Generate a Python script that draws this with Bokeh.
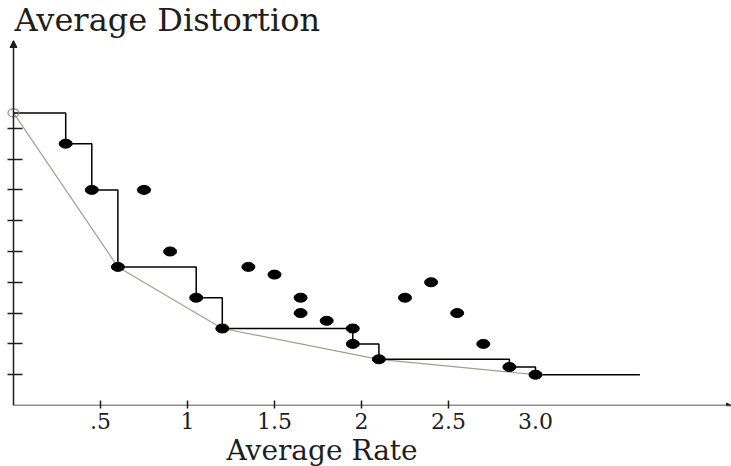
from bokeh.plotting import figure
from bokeh.models import Range1d, FixedTicker, Arrow, NormalHead, Title
from bokeh.embed import file_html
from bokeh.resources import INLINE

# ---- data (rate in bits, distortion in tick units) ----
origin_rate = [0.0]
origin_dist = [9.5]

# operational points that form the staircase (upper envelope)
stair_rate = [0.0, 0.3, 0.45, 0.6, 1.05, 1.2, 1.95, 1.95, 2.1, 2.85, 3.0, 3.6]
stair_dist = [9.5, 8.5, 7.0, 4.5, 3.5, 2.5, 2.5, 2.0, 1.5, 1.25, 1.0, 1.0]

# lower convex hull
hull_rate = [0.0, 0.6, 1.2, 2.1, 3.0]
hull_dist = [9.5, 4.5, 2.5, 1.5, 1.0]

# all filled operating points
point_rate = [0.3, 0.45, 0.6, 1.05, 1.2, 1.95, 1.95, 2.1, 2.85, 3.0,
              0.75, 0.9, 1.35, 1.5, 1.65, 1.65, 1.8, 2.25, 2.4, 2.55, 2.7]
point_dist = [8.5, 7.0, 4.5, 3.5, 2.5, 2.5, 2.0, 1.5, 1.25, 1.0,
              7.0, 5.0, 4.5, 4.25, 3.5, 3.0, 2.75, 3.5, 4.0, 3.0, 2.0]

x_tick_values = [0.5, 1.0, 1.5, 2.0, 2.5, 3.0]
x_tick_labels = [".5", "1", "1.5", "2", "2.5", "3.0"]
x_tick_marks = [0.5, 1.0, 1.5, 2.0, 2.5]
y_tick_marks = [1, 2, 3, 4, 5, 6, 7, 8, 9]

X_START, X_END = -13 / 174, 718 / 174
Y_END = 11.85
SERIF = "DejaVu Serif"
INK = "#1e1e1e"

p = figure(width=731, height=466, output_backend="svg", toolbar_location=None,
           x_range=Range1d(X_START, X_END), y_range=Range1d(0, Y_END),
           min_border_left=0, min_border_right=0, min_border_top=40,
           min_border_bottom=61)
p.grid.visible = False
p.outline_line_color = None
p.background_fill_color = "white"

p.title.text = "Average Distortion"
p.title.text_font = SERIF
p.title.text_font_size = "32px"
p.title.text_font_style = "normal"
p.title.text_color = INK
p.title.align = "left"
p.title.vertical_align = "top"
p.title.offset = 14
p.title.standoff = 0

# x axis
xa = p.xaxis[0]
xa.ticker = FixedTicker(ticks=x_tick_values, minor_ticks=x_tick_marks)
xa.major_label_overrides = dict(zip(x_tick_values, x_tick_labels))
xa.major_tick_in = 0
xa.major_tick_out = 0
xa.minor_tick_in = 5
xa.minor_tick_out = 3
xa.minor_tick_line_color = INK
xa.minor_tick_line_width = 1.5
xa.axis_line_color = None
xa.major_label_text_font = SERIF
xa.major_label_text_font_size = "22px"
xa.major_label_text_color = INK
xa.major_label_standoff = 4

p.add_layout(Title(text="Average Rate", align="left", offset=226,
                   text_font=SERIF, text_font_size="28px",
                   text_font_style="normal", text_color=INK, standoff=0),
             "below")

# y axis (fixed at rate 0)
ya = p.yaxis[0]
ya.fixed_location = 0
ya.ticker = FixedTicker(ticks=[], minor_ticks=y_tick_marks)
ya.major_tick_in = 0
ya.major_tick_out = 0
ya.minor_tick_in = 9
ya.minor_tick_out = 6
ya.minor_tick_line_color = INK
ya.minor_tick_line_width = 1.5
ya.axis_line_color = None
ya.major_label_standoff = 0

# axis lines with arrow heads
p.add_layout(Arrow(x_start=0, y_start=0, x_end=0, y_end=Y_END,
                   line_color=INK, line_width=1.5,
                   end=NormalHead(size=7, fill_color=INK, line_color=INK)))
p.add_layout(Arrow(x_start=0, y_start=0, x_end=X_END, y_end=0,
                   line_color=INK, line_width=1.5,
                   end=NormalHead(size=5, fill_color=INK, line_color=INK)))

# lower convex hull
p.line(hull_rate, hull_dist, line_color="#a0a090", line_width=1.2)
# staircase
p.step(stair_rate, stair_dist, mode="after", line_color="black", line_width=1.5)
# points
p.ellipse(x=point_rate, y=point_dist, width=13, height=9,
          width_units="screen", height_units="screen",
          fill_color="black", line_color="black")
p.ellipse(x=origin_rate, y=origin_dist, width=11, height=8,
          width_units="screen", height_units="screen",
          fill_color=None, line_color="#8a8a8a", line_width=1.2)

open("out.html", "w").write(file_html(p, INLINE))
